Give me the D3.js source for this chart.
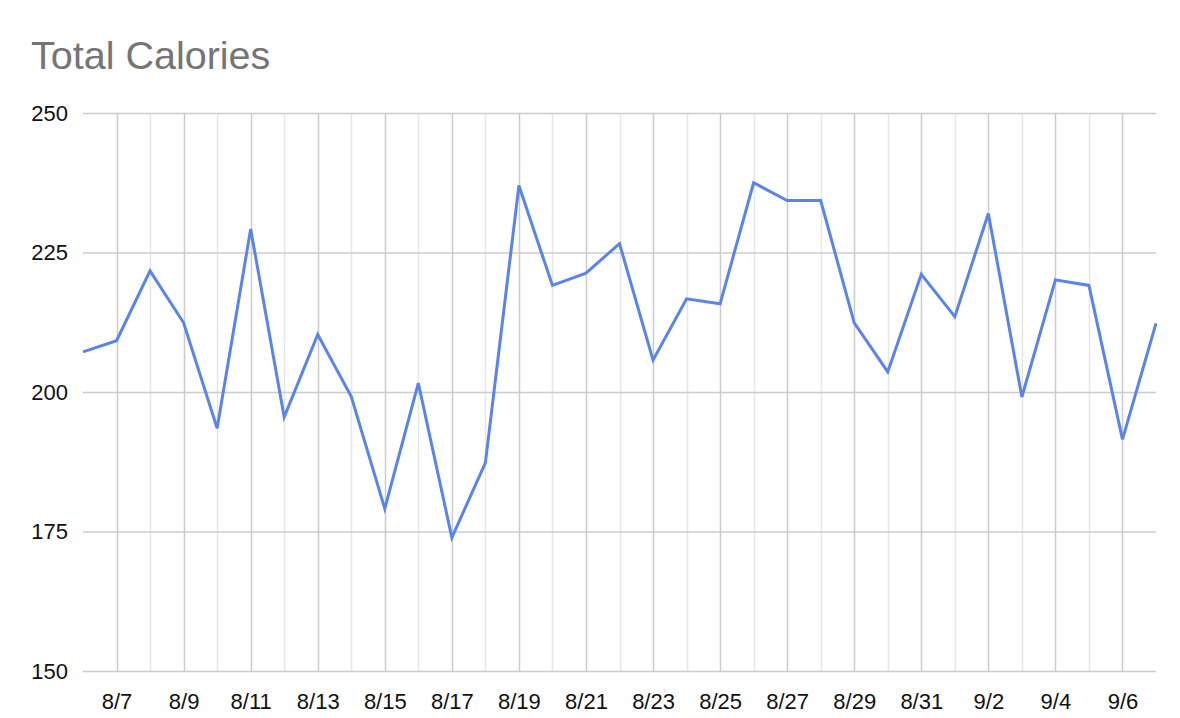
<!DOCTYPE html>
<html>
<head>
<meta charset="utf-8">
<script src="https://cdn.jsdelivr.net/npm/d3@7"></script>
<style>
  html, body { margin: 0; padding: 0; background: #fff; }
  svg { display: block; font-family: "Liberation Sans", Arial, sans-serif; }
</style>
</head>
<body>
<svg id="chart" width="1180" height="718"></svg>
<script>
const categories = ["8/6","8/7","8/8","8/9","8/10","8/11","8/12","8/13","8/14","8/15","8/16","8/17","8/18","8/19","8/20","8/21","8/22","8/23","8/24","8/25","8/26","8/27","8/28","8/29","8/30","8/31","9/1","9/2","9/3","9/4","9/5","9/6","9/7"];
const totalCalories = [207.2,209.2,221.7,212.4,193.5,229.2,195.5,210.3,199.2,179.1,201.6,173.9,187.3,237.0,219.1,221.3,226.6,205.7,216.7,215.8,237.5,234.3,234.3,212.4,203.6,221.1,213.5,232.0,199.1,220.1,219.1,191.5,212.3];
const xTickLabels = ["8/7","8/9","8/11","8/13","8/15","8/17","8/19","8/21","8/23","8/25","8/27","8/29","8/31","9/2","9/4","9/6"];
const yTicks = [150,175,200,225,250];
const title = "Total Calories";

(function () {
const svg = d3.select("#chart");
const mLeft = 83, mRight = 1156, mTop = 113, mBottom = 671;

const x = d3.scalePoint().domain(categories).range([mLeft, mRight]);
const y = d3.scaleLinear().domain([150, 250]).range([mBottom, mTop]);

svg.append("text")
  .attr("x", 31).attr("y", 69)
  .attr("font-size", 39.5).attr("fill", "#757575")
  .text(title);

// vertical gridlines (minor then major)
const inner = categories.slice(1, -1);
svg.append("g").selectAll("line")
  .data(inner.filter(c => !xTickLabels.includes(c)))
  .join("line")
  .attr("x1", d => Math.round(x(d)) + 0.5).attr("x2", d => Math.round(x(d)) + 0.5)
  .attr("y1", mTop).attr("y2", mBottom)
  .attr("stroke", "#e6e6e6").attr("stroke-width", 1.5);
svg.append("g").selectAll("line")
  .data(xTickLabels)
  .join("line")
  .attr("x1", d => Math.round(x(d)) + 0.5).attr("x2", d => Math.round(x(d)) + 0.5)
  .attr("y1", mTop).attr("y2", mBottom)
  .attr("stroke", "#cccccc").attr("stroke-width", 1.5);

// horizontal gridlines via axis
const yAxis = d3.axisLeft(y).tickValues(yTicks).tickSize(-(mRight - mLeft)).tickPadding(15).tickFormat(d3.format("d"));
const gy = svg.append("g").attr("transform", `translate(${mLeft},0)`).call(yAxis);
gy.select(".domain").remove();
gy.selectAll(".tick line").attr("stroke", "#cccccc").attr("stroke-width", 1.5);
gy.selectAll(".tick text").attr("font-size", 22).attr("fill", "#111").attr("font-family", "Liberation Sans, Arial, sans-serif");

// x axis labels
const xAxis = d3.axisBottom(x).tickValues(xTickLabels).tickSize(0).tickPadding(22);
const gx = svg.append("g").attr("transform", `translate(0,${mBottom})`).call(xAxis);
gx.select(".domain").remove();
gx.selectAll(".tick text").attr("font-size", 22).attr("fill", "#111").attr("font-family", "Liberation Sans, Arial, sans-serif");

// line
const line = d3.line().x((d, i) => x(categories[i])).y(d => y(d));
svg.append("path")
  .datum(totalCalories)
  .attr("d", line)
  .attr("fill", "none")
  .attr("stroke", "#5b84e9")
  .attr("stroke-width", 3)
  .attr("stroke-linejoin", "miter");
})();
</script>
</body>
</html>
